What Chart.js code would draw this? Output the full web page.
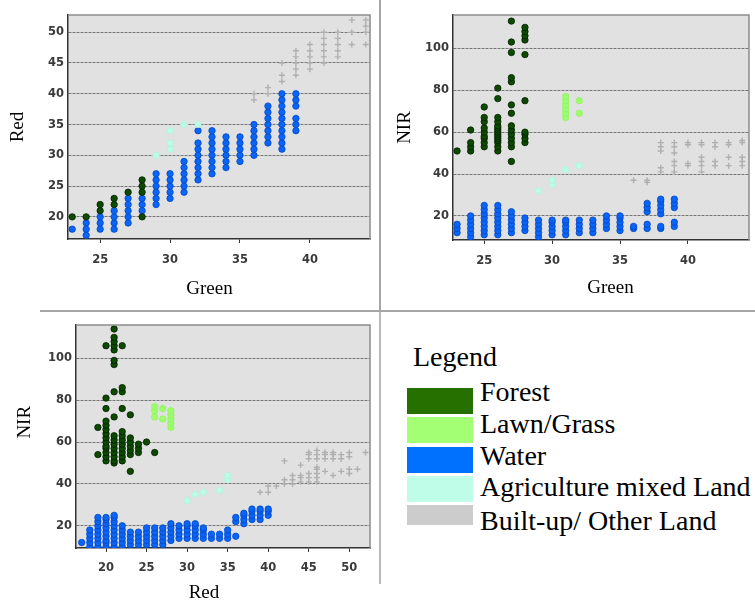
<!DOCTYPE html>
<html><head><meta charset="utf-8"><title>Scatter plots of Green, Red and NIR</title>
<script src="https://cdn.jsdelivr.net/npm/chart.js@4.4.1/dist/chart.umd.min.js"></script>
<style>
html,body{margin:0;padding:0;background:#fff;}
body{position:relative;width:755px;height:608px;overflow:hidden;font-family:"Liberation Serif","Times New Roman",serif;}
canvas.abs{position:absolute;}
.sep{position:absolute;background:#a6a6a6;}
.lg{position:absolute;font-size:28px;line-height:28px;white-space:nowrap;color:#000;}
.sw{position:absolute;left:407px;width:66px;}
</style></head><body>
<canvas id="p1" class="abs" width="380" height="305" style="left:0;top:0"></canvas>
<canvas id="p2" class="abs" width="375" height="305" style="left:380px;top:0"></canvas>
<canvas id="p3" class="abs" width="380" height="296" style="left:0;top:312px"></canvas>
<div class="sep" style="left:379px;top:0;width:2px;height:310px"></div>
<div class="sep" style="left:40px;top:310px;width:715px;height:2px"></div>
<div class="sep" style="left:379px;top:312px;width:2px;height:272px;background:#b8b8b8"></div>
<div id="legend"></div>
<script>
// ---------- data: [x, [y values]] columns ----------
// Plot 1: Green (x) vs Red (y)
const p1Forest = [[23,[20]],[24,[20]],[25,[21,22]],[26,[22,23]],[27,[24]],[28,[20,24,25,26]]];
const p1Water = [[23,[18]],[24,[17,18,19]],[25,[18,19,20]],[26,[18,19,20,21]],[27,[19,20,21,22,23]],[28,[21,22,23]],[29,[22,23,24,25,26,27]],[30,[23,24,25,26,27]],[31,[24,25,26,27,28,29]],[32,[26,27,28,29,30,31,32,34]],[33,[27,28,29,30,31,32,33,34]],[34,[28,29,30,31,32,33]],[35,[29,30,31,32,33]],[36,[30,31,32,33,34,35]],[37,[32,33,34,35,36,37,38]],[38,[31,32,33,34,35,36,37,38,39,40]],[39,[34,35,36,38,39,40]]];
const p1Agri = [[29,[30]],[30,[31,32,34]],[31,[35]],[32,[35]]];
const p1Built = [[36,[39,40]],[37,[40,41]],[38,[42,43,45]],[39,[43,44,45,46,47]],[40,[44,45,46,47,48]],[41,[45,46,47,48,49,50]],[42,[46,47,48,49,50]],[43,[48,50,52]],[44,[48,50,51,52]]];

// Plot 2: Green (x) vs NIR (y)
const p2Forest = [[23,[51]],[24,[51,53,55,61]],[25,[53,55,57,58,60,62,65,67,72]],[26,[51,53,55,56,57,58,59,60,61,62,63,65,67,76,81]],[27,[46,53,55,57,59,61,63,69,73,84,86,98,103,113]],[28,[55,57,59,60,75,97,104,106,108,110]]];
const p2Lawn = [[31,[67,69,71,73,75,77]],[32,[69,75]]];
const p2Water = [[23,[12,14,16]],[24,[10,12,14,16,18,20]],[25,[11,13,15,17,19,21,23,25]],[26,[11,13,15,17,19,21,23,25]],[27,[12,14,16,18,20,22]],[28,[13,15,17,19]],[29,[10,12,14,16,18]],[30,[11,13,15,17,18]],[31,[11,13,15,17,18]],[32,[12,14,16,18]],[33,[12,14,16,18]],[34,[14,16,18,20]],[35,[13,15,17,19,20]],[36,[14,15]],[37,[14,16,22,24,26]],[38,[14,15,21,23,25,27,28]],[39,[15,17,24,26,28]]];
const p2Agri = [[29,[32]],[30,[35,37]],[31,[42]],[32,[44]]];
const p2Built = [[36,[37]],[37,[36,37]],[38,[41,43,51,53,55]],[39,[41,44,46,50,53,55]],[40,[44,45,54,55]],[41,[41,44,46,48,54,55]],[42,[44,46,53,55]],[43,[44,48,54,55]],[44,[44,46,48,55,56]]];

// Plot 3: Red (x) vs NIR (y)
const p3Forest = [[19,[54,67]],[20,[51,53,55,57,58,60,62,64,66,68,70,76,81,106]],[21,[50,51,53,55,57,59,61,63,72,84,97,99,104,106,108,110,114]],[22,[51,53,55,57,59,61,63,65,76,84,86,106]],[23,[46,54,56,58,60,62,73]],[24,[55,57,59]],[25,[60]],[26,[55]]];
const p3Lawn = [[26,[72,75,77]],[27,[71,76]],[28,[67,69,71,73,75]]];
const p3Water = [[17,[12]],[18,[10,12,14,16,18]],[19,[10,12,14,16,18,20,22,24]],[20,[10,12,13,15,17,19,21,23,24]],[21,[10,12,14,16,18,20,22,24,25]],[22,[10,12,14,16,18,20]],[23,[11,13,15,17]],[24,[11,13,15,17]],[25,[11,13,15,17,19]],[26,[11,13,15,17,19]],[27,[11,13,15,17,19]],[28,[13,15,17,19,21]],[29,[14,16,18,20]],[30,[14,16,18,20,21]],[31,[14,16,18,20,21]],[32,[14,16,18,19]],[33,[14,16]],[34,[14,16]],[35,[14,16,18]],[36,[15,22,24]],[37,[21,23,25,26]],[38,[23,25,27,28]],[39,[23,25,27,28]],[40,[25,27,28]]];
const p3Agri = [[30,[32]],[31,[35]],[32,[36]],[34,[37]],[35,[42,44]]];
const p3Built = [[39,[36]],[40,[36,39]],[41,[39]],[42,[40,42,51]],[43,[40,42,44]],[44,[41,43,44,49]],[45,[41,43,45,52,54,55]],[46,[41,43,45,47,48,52,54,56]],[47,[46,52,54,55]],[48,[44,52,54,55]],[49,[46,52,54]],[50,[45,47,53,55]],[51,[47]],[52,[55]]];

// tick labels
const greenTicks = [25,30,35,40];
const redTicks = [20,25,30,35,40,45,50];
const redTicksP1 = [20,25,30,35,40,45,50];
const nirTicks = [20,40,60,80,100];

// legend
const legendLabels = ['Forest','Lawn/Grass','Water','Agriculture mixed Land','Built-up/ Other Land'];
const legendColors = ['#267000','#a3ff73','#0070ff','#bffde8','#cccccc'];

// ---------- styles ----------
const mark = {
  Forest: {shape:'circle', r:3.2, fill:'#0c4a00', stroke:'#032000', bw:0.8},
  'Lawn/Grass': {shape:'circle', r:3.2, fill:'#9dff6c', stroke:'#8af05a', bw:0.6},
  Water: {shape:'circle', r:3.2, fill:'#0a64f6', stroke:'#0048c8', bw:0.8},
  'Agriculture mixed Land': {shape:'circle', r:3.2, fill:'#bdfbe6', stroke:'#a8f2da', bw:0.6},
  'Built-up/ Other Land': {shape:'cross', r:3, fill:'#b4b4b4', stroke:'#b0b0b0', bw:1.4}
};

function pts(cols){ const out=[]; for (const [x, ys] of cols) for (const y of ys) out.push({x:x, y:y}); return out; }

const framePlugin = {
  id: 'frame',
  beforeDraw(chart){
    const {ctx, chartArea:a} = chart;
    ctx.save(); ctx.fillStyle = '#e1e1e1';
    ctx.fillRect(a.left, a.top, a.right - a.left, a.bottom - a.top); ctx.restore();
  },
  afterDraw(chart){
    const {ctx, chartArea:a} = chart;
    ctx.save(); ctx.strokeStyle = '#8c8c8c'; ctx.lineWidth = 1.5;
    ctx.beginPath(); ctx.moveTo(a.left, a.top); ctx.lineTo(a.right, a.top); ctx.lineTo(a.right, a.bottom); ctx.stroke();
    ctx.restore();
  }
};

const tickFont = {family:'"DejaVu Sans", Verdana, sans-serif', size:11.5, weight:'bold'};
const titleFont = {family:'"Liberation Serif", "Times New Roman", serif', size:19, lineHeight:1.2};

function scatter(id, o){
  return new Chart(document.getElementById(id), {
    type: 'scatter',
    data: { datasets: o.sets.map(s => {
      const m = mark[s[0]];
      return { label: s[0], data: pts(s[1]), pointStyle: m.shape, pointRadius: m.r,
        pointBackgroundColor: m.fill, pointBorderColor: m.stroke, pointBorderWidth: m.bw, showLine:false };
    }) },
    options: {
      responsive:false, animation:false, events:[],
      layout:{padding:{top:o.padTop, right:o.padRight, left:0, bottom:0}},
      plugins:{legend:{display:false}, tooltip:{enabled:false}},
      scales:{
        x:{ type:'linear', min:o.xMin, max:o.xMax,
          afterBuildTicks: s => { s.ticks = o.xTicks.map(v => ({value:v})); },
          afterFit: s => { s.height = o.xH; },
          ticks:{font:tickFont, color:'#3a3a3a', padding:o.xTickPad, maxRotation:0},
          grid:{drawOnChartArea:false, drawTicks:true, tickLength:4, color:'#333'},
          border:{display:true, color:'#333', width:1.5},
          title:{display:true, text:o.xTitle, font:titleFont, color:'#000', padding:{top:0, bottom:o.xTitlePad}} },
        y:{ type:'linear', min:o.yMin, max:o.yMax,
          afterBuildTicks: s => { s.ticks = o.yTicks.map(v => ({value:v})); },
          afterFit: s => { s.width = o.yW; },
          ticks:{font:tickFont, color:'#3a3a3a', padding:4},
          grid:{drawOnChartArea:true, drawTicks:false, color:'#767676', lineWidth:1},
          border:{display:true, color:'#333', width:1.5, dash:[3,1]},
          title:{display:true, text:o.yTitle, font:titleFont, color:'#000', padding:{top:o.yTitlePad, bottom:0}} }
      }
    },
    plugins:[framePlugin]
  });
}

scatter('p1', {
  sets:[['Forest',p1Forest],['Agriculture mixed Land',p1Agri],['Water',p1Water],['Built-up/ Other Land',p1Built]],
  xMin:22.7, xMax:44.3, yMin:16.4, yMax:52.8, xTicks:greenTicks, yTicks:redTicksP1,
  padTop:15, padRight:10, yW:68, xH:66, xTickPad:10, xTitle:'Green    ', yTitle:'Red', xTitlePad:4.6, yTitlePad:7
});
scatter('p2', {
  sets:[['Forest',p2Forest],['Lawn/Grass',p2Lawn],['Agriculture mixed Land',p2Agri],['Water',p2Water],['Built-up/ Other Land',p2Built]],
  xMin:22.7, xMax:44.5, yMin:8.5, yMax:115.9, xTicks:greenTicks, yTicks:nirTicks,
  padTop:15, padRight:6, yW:73, xH:65, xTickPad:10, xTitle:'    Green', yTitle:'NIR', xTitlePad:5.6, yTitlePad:13.6
});
scatter('p3', {
  sets:[['Forest',p3Forest],['Lawn/Grass',p3Lawn],['Agriculture mixed Land',p3Agri],['Water',p3Water],['Built-up/ Other Land',p3Built]],
  xMin:16.3, xMax:52.55, yMin:9.4, yMax:115.9, xTicks:redTicks, yTicks:nirTicks,
  padTop:13, padRight:10, yW:76, xH:60, xTickPad:9, xTitle:'Red        ', yTitle:'      NIR', xTitlePad:3.6, yTitlePad:13.6
});

// ---------- legend panel ----------
(function(){
  const host = document.getElementById('legend');
  const title = document.createElement('div');
  title.className = 'lg'; title.textContent = 'Legend';
  title.style.left = '413px'; title.style.top = (366.7 - 23.4) + 'px';
  host.appendChild(title);
  const swTop = [388, 417, 446.5, 475.5, 504.5];
  const swH = [26, 26, 26, 26, 20];
  const txtBase = [401, 433.3, 465.7, 496.7, 530];
  legendLabels.forEach((lab, i) => {
    const sw = document.createElement('div');
    sw.className = 'sw'; sw.style.top = swTop[i] + 'px'; sw.style.height = swH[i] + 'px';
    sw.style.background = legendColors[i];
    host.appendChild(sw);
    const t = document.createElement('div');
    t.className = 'lg'; t.textContent = lab;
    t.style.left = '480px'; t.style.top = (txtBase[i] - 23.4) + 'px';
    host.appendChild(t);
  });
})();
</script>
</body></html>
